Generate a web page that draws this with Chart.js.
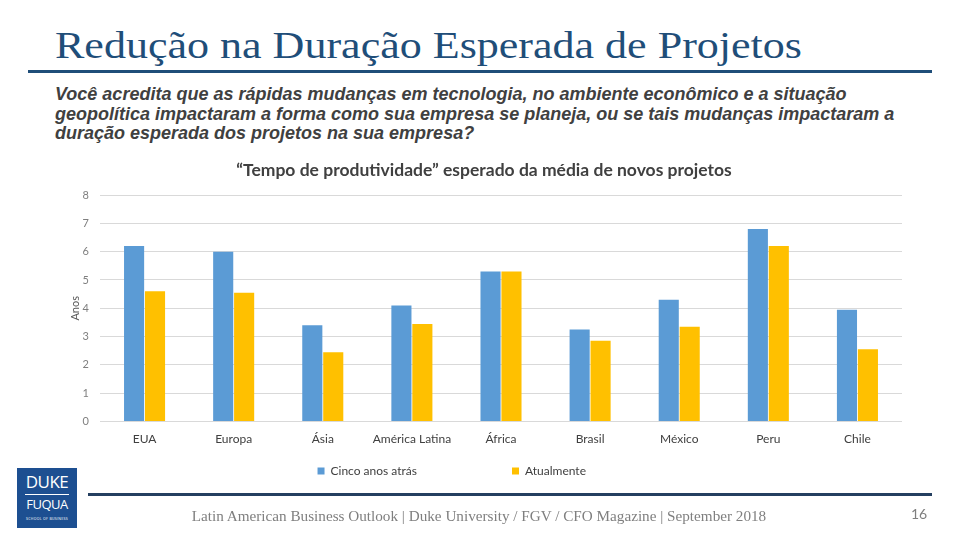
<!DOCTYPE html>
<html>
<head>
<meta charset="utf-8">
<script src="https://cdn.jsdelivr.net/npm/chart.js@4.4.0/dist/chart.umd.min.js"></script>
<style>
  html, body { margin: 0; padding: 0; background: #fff; }
  body { width: 960px; height: 540px; position: relative; overflow: hidden; }
  .title {
    position: absolute; left: 55px; top: 27px;
    font-family: "Liberation Serif", serif; font-size: 37px; color: #1F4E79;
    white-space: nowrap; line-height: 1;
    transform: scaleX(1.19); transform-origin: left top;
  }
  .rule-top { position: absolute; left: 28px; top: 70px; width: 904px; height: 3px; background: #1F4E79; }
  .question {
    position: absolute; left: 55px; top: 85px; width: 900px;
    font-family: "Liberation Sans", Arial, sans-serif; font-size: 18px; font-weight: bold; font-style: italic;
    color: #404040; line-height: 19.5px; white-space: nowrap;
  }
  .rule-bottom { position: absolute; left: 88px; top: 493px; width: 844px; height: 3px; background: #243F60; }
  .footer {
    position: absolute; left: 0; width: 958px; top: 507px; text-align: center;
    font-family: "Liberation Serif", serif; font-size: 15.2px; color: #7f7f7f; white-space: nowrap;
  }
  .page { position: absolute; left: 911px; top: 505px; font-family: Lato, sans-serif; font-size: 14px; color: #7f7f7f; }
  .logo {
    position: absolute; left: 17px; top: 468px; width: 60px; height: 60px; background: #1d4f91;
    color: #fff; font-family: "Open Sans", sans-serif; text-align: center;
  }
  .logo .duke { position: absolute; left: 0; right: 0; top: 5px; font-size: 17px; line-height: 1; letter-spacing: -0.5px; }
  .logo .bar { position: absolute; left: 8px; right: 8px; top: 26px; height: 1px; background: #fff; }
  .logo .fuqua { position: absolute; left: 0; right: 0; top: 30px; font-size: 13px; line-height: 1; letter-spacing: -0.5px; }
  .logo .sob { position: absolute; left: 0; right: 0; top: 49px; font-size: 3.5px; line-height: 1; letter-spacing: 0.3px; }
  #wrap { position: absolute; left: 0; top: 155px; width: 960px; height: 335px; }
</style>
</head>
<body>
<div class="title">Redução na Duração Esperada de Projetos</div>
<div class="rule-top"></div>
<div class="question">Você acredita que as rápidas mudanças em tecnologia, no ambiente econômico e a situação<br>geopolítica impactaram a forma como sua empresa se planeja, ou se tais mudanças impactaram a<br>duração esperada dos projetos na sua empresa?</div>

<div id="wrap"><canvas id="chart"></canvas></div>

<div class="logo">
  <div class="duke">DUKE</div>
  <div class="bar"></div>
  <div class="fuqua">FUQUA</div>
  <div class="sob">SCHOOL OF BUSINESS</div>
</div>
<div class="rule-bottom"></div>
<div class="footer">Latin American Business Outlook | Duke University / FGV / CFO Magazine | September 2018</div>
<div class="page">16</div>

<script>
const regions = ['EUA', 'Europa', 'Ásia', 'América Latina', 'África', 'Brasil', 'México', 'Peru', 'Chile'];
const cincoAnosAtras = [6.2, 6.0, 3.4, 4.1, 5.3, 3.25, 4.3, 6.8, 3.95];
const atualmente = [4.6, 4.55, 2.45, 3.45, 5.3, 2.85, 3.35, 6.2, 2.55];
const yTicks = [0, 1, 2, 3, 4, 5, 6, 7, 8];

const chartTitle = '“Tempo de produtividade” esperado da média de novos projetos';

// espaços no fim dos rótulos da legenda para afastar os itens como no original
const legendPad = [' '.repeat(28), ' '.repeat(21)];

new Chart(document.getElementById('chart'), {
  type: 'bar',
  data: {
    labels: regions,
    datasets: [
      { label: 'Cinco anos atrás', data: cincoAnosAtras, backgroundColor: '#5B9BD5' },
      { label: 'Atualmente', data: atualmente, backgroundColor: '#FFC000' }
    ]
  },
  options: {
    responsive: true,
    maintainAspectRatio: false,
    animation: false,
    datasets: { bar: { categoryPercentage: 0.47, barPercentage: 0.96 } },
    layout: { padding: { left: 66, right: 58, top: 0, bottom: 3 } },
    plugins: {
      title: {
        display: true,
        text: chartTitle,
        color: '#404040',
        font: { family: 'Lato', size: 17.5 },
        padding: { top: 5, bottom: 14 }
      },
      legend: {
        position: 'bottom',
        labels: {
          color: '#404040',
          font: { family: 'Lato', size: 12 },
          boxWidth: 7,
          boxHeight: 7,
          padding: 9,
          generateLabels: (chart) => {
            const items = Chart.defaults.plugins.legend.labels.generateLabels(chart);
            items.forEach((it, i) => { it.text = it.text + legendPad[i]; it.lineWidth = 0; });
            return items;
          }
        }
      },
      tooltip: { enabled: false }
    },
    scales: {
      x: {
        grid: { display: false, drawTicks: false },
        border: { display: false },
        ticks: { color: '#404040', font: { family: 'Lato', size: 12 }, padding: 10 }
      },
      y: {
        min: 0,
        max: 8,
        afterBuildTicks: (axis) => { axis.ticks = yTicks.map(v => ({ value: v })); },
        afterFit: (axis) => { axis.width = 34; },
        grid: { color: '#d9d9d9', drawTicks: false },
        border: { display: false },
        ticks: { color: '#7f7f7f', font: { family: 'Lato', size: 11 }, padding: 11 },
        title: { display: true, text: 'Anos', color: '#595959', font: { family: 'Lato', size: 11 }, padding: 3 }
      }
    }
  }
});
</script>
</body>
</html>
